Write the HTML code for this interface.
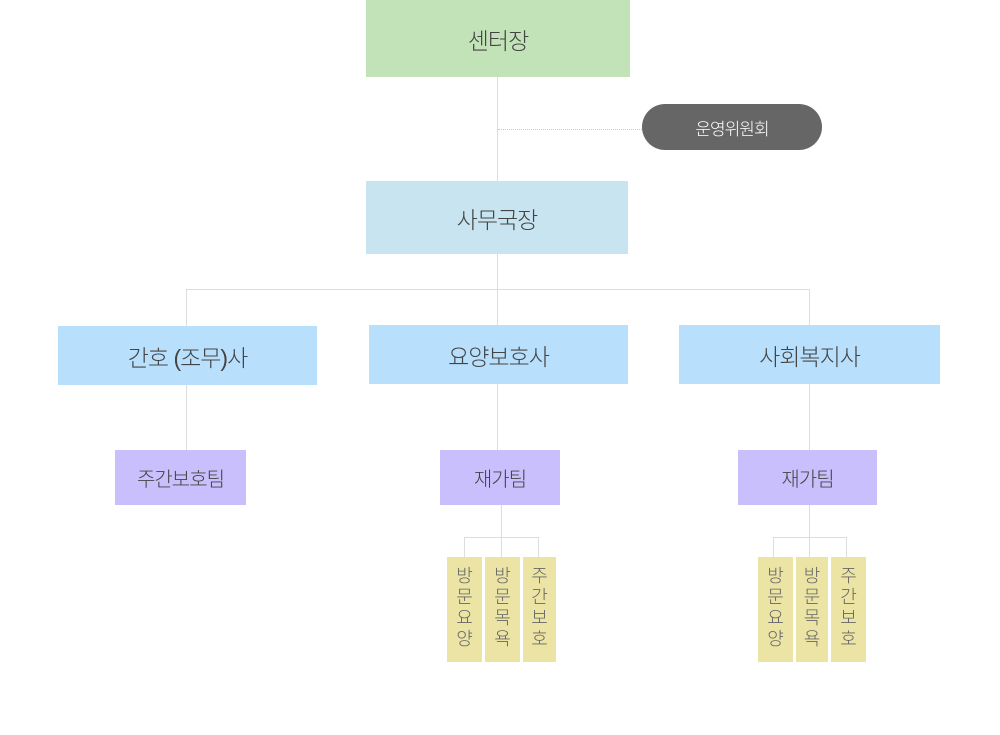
<!DOCTYPE html>
<html><head><meta charset="utf-8"><style>
body{margin:0;width:1000px;height:735px;background:#fff;position:relative;overflow:hidden;font-family:"Liberation Sans","Noto Sans CJK KR Light","Noto Sans CJK KR",sans-serif;}
.b{position:absolute;display:flex;align-items:center;justify-content:center;color:#444;font-size:23px;letter-spacing:-1px;}
.l{position:absolute;background:#ddd;}
.v{width:1px}.h{height:1px}
.y{position:absolute;background:#ebe4a5;color:#666;font-size:18px;line-height:21px;text-align:center;padding-top:9px;box-sizing:border-box;}
</style></head><body>
<div class="b" style="left:366px;top:0;width:264px;height:77px;background:#c2e2b8">센터장</div>
<div class="l v" style="left:497px;top:77px;height:104px"></div>
<div style="position:absolute;left:498px;top:129px;width:144px;border-top:1px dotted #ccc"></div>
<div class="b" style="left:642px;top:104px;width:180px;height:46px;background:#666;color:#fff;font-size:17px;border-radius:23px">운영위원회</div>
<div class="b" style="left:366px;top:181px;width:262px;height:73px;background:#c8e4f0">사무국장</div>
<div class="l v" style="left:497px;top:254px;height:71px"></div>
<div class="l h" style="left:186px;top:289px;width:624px"></div>
<div class="l v" style="left:186px;top:289px;height:161px"></div>
<div class="l v" style="left:809px;top:289px;height:161px"></div>
<div class="b" style="left:58px;top:326px;width:259px;height:59px;background:#b8e0fc">간호 (조무)사</div>
<div class="b" style="left:369px;top:325px;width:259px;height:59px;background:#b8e0fc">요양보호사</div>
<div class="b" style="left:679px;top:325px;width:261px;height:59px;background:#b8e0fc">사회복지사</div>
<div class="l v" style="left:497px;top:384px;height:66px"></div>
<div class="b" style="left:115px;top:450px;width:131px;height:55px;background:#c9bffc;font-size:20px">주간보호팀</div>
<div class="b" style="left:440px;top:450px;width:120px;height:55px;background:#c9bffc;font-size:20px">재가팀</div>
<div class="b" style="left:738px;top:450px;width:139px;height:55px;background:#c9bffc;font-size:20px">재가팀</div>
<div class="l v" style="left:501px;top:505px;height:52px"></div>
<div class="l h" style="left:464px;top:537px;width:75px"></div>
<div class="l v" style="left:464px;top:537px;height:20px"></div>
<div class="l v" style="left:538px;top:537px;height:20px"></div>
<div class="l v" style="left:809px;top:505px;height:52px"></div>
<div class="l h" style="left:773px;top:537px;width:74px"></div>
<div class="l v" style="left:773px;top:537px;height:20px"></div>
<div class="l v" style="left:846px;top:537px;height:20px"></div>
<div class="y" style="left:447px;top:557px;width:35px;height:105px">방<br>문<br>요<br>양</div>
<div class="y" style="left:485px;top:557px;width:35px;height:105px">방<br>문<br>목<br>욕</div>
<div class="y" style="left:523px;top:557px;width:33px;height:105px">주<br>간<br>보<br>호</div>
<div class="y" style="left:758px;top:557px;width:35px;height:105px">방<br>문<br>요<br>양</div>
<div class="y" style="left:796px;top:557px;width:32px;height:105px">방<br>문<br>목<br>욕</div>
<div class="y" style="left:831px;top:557px;width:35px;height:105px">주<br>간<br>보<br>호</div>
</body></html>
